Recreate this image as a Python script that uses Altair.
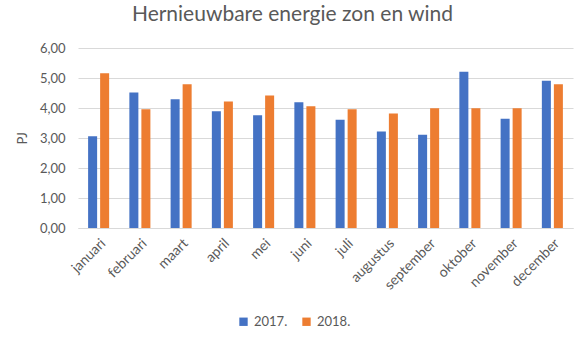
import altair as alt
import pandas as pd

months = ["januari", "februari", "maart", "april", "mei", "juni", "juli",
          "augustus", "september", "oktober", "november", "december"]
v2017 = [3.06, 4.52, 4.29, 3.89, 3.76, 4.19, 3.61, 3.22, 3.11, 5.21, 3.64, 4.91]
v2018 = [5.16, 3.96, 4.79, 4.22, 4.42, 4.06, 3.96, 3.82, 3.99, 3.99, 3.99, 4.79]
series = ["2017.", "2018."]

rows = []
for m, a, b in zip(months, v2017, v2018):
    rows.append({"maand": m, "jaar": series[0], "PJ": a})
    rows.append({"maand": m, "jaar": series[1], "PJ": b})
df = pd.DataFrame(rows)

FONT = "Lato"
GREY = "#595959"

chart = alt.Chart(df).mark_bar().encode(
    x=alt.X("maand:N", sort=months,
            scale=alt.Scale(paddingInner=0.49, paddingOuter=0.245),
            axis=alt.Axis(title=None, labelAngle=-45, ticks=False,
                          domainColor="#d9d9d9", labelPadding=8,
                          labelFontSize=14, labelColor=GREY, labelFont=FONT)),
    xOffset=alt.XOffset("jaar:N", sort=series,
                        scale=alt.Scale(paddingInner=0.25, paddingOuter=0)),
    y=alt.Y("PJ:Q", scale=alt.Scale(domain=[0, 6], nice=False),
            axis=alt.Axis(title="PJ", values=[0, 1, 2, 3, 4, 5, 6],
                          labelExpr="replace(format(datum.value, '.2f'), '.', ',')",
                          domain=False, ticks=False, gridColor="#d9d9d9",
                          labelPadding=13, labelFontSize=13, labelColor=GREY,
                          labelFont=FONT, titleFont=FONT, titleFontSize=13,
                          titleFontWeight="normal", titleColor=GREY,
                          titlePadding=10)),
    color=alt.Color("jaar:N", sort=series,
                    scale=alt.Scale(domain=series, range=["#4472C4", "#ED7D31"]),
                    legend=alt.Legend(title=None, orient="none", direction="horizontal",
                                      legendX=159, legendY=267, symbolType="square",
                                      symbolSize=70, labelFontSize=13, labelColor=GREY,
                                      labelFont=FONT, columnPadding=12,
                                      symbolStrokeWidth=0)),
).properties(
    width=495, height=180,
    title=alt.TitleParams("Hernieuwbare energie zon en wind", fontSize=21,
                          font=FONT, fontWeight="normal", color=GREY,
                          anchor="middle", dx=-33, offset=17),
    autosize=alt.AutoSizeParams(type="none"),
    padding={"left": 78, "top": 48, "right": 7, "bottom": 114},
).configure_view(stroke=None)

chart.save("out.html", embed_options={"renderer": "svg", "actions": False})
